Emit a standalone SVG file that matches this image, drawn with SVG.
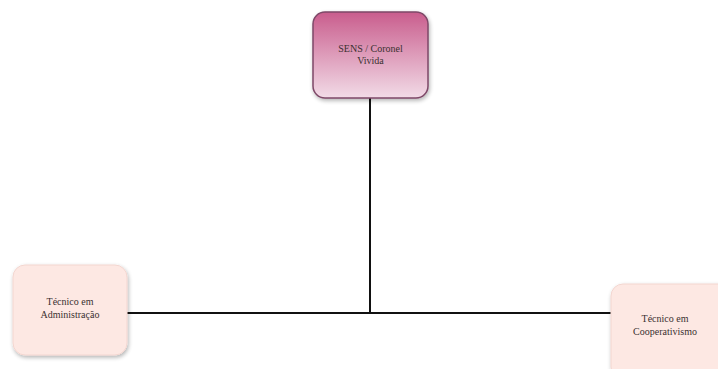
<svg xmlns="http://www.w3.org/2000/svg" width="718" height="369" viewBox="0 0 718 369">
<defs>
<linearGradient id="gTop" x1="0" y1="0" x2="0" y2="1">
<stop offset="0" stop-color="#c95d8d"/>
<stop offset="1" stop-color="#f2dbe7"/>
</linearGradient>
<filter id="sh" x="-20%" y="-20%" width="140%" height="140%">
<feGaussianBlur in="SourceAlpha" stdDeviation="2"/>
<feOffset dx="1" dy="2"/>
<feComponentTransfer><feFuncA type="linear" slope="0.3"/></feComponentTransfer>
<feMerge><feMergeNode/><feMergeNode in="SourceGraphic"/></feMerge>
</filter>
</defs>
<style>
.t{font-family:"Liberation Serif","Times New Roman",serif;font-size:10px;fill:#3a3030;text-anchor:middle}
.light{fill:#fde8e3;stroke:#f3d6d0;stroke-width:1}
.c{stroke:#111;stroke-width:2;fill:none}
</style>
<rect width="718" height="369" fill="#ffffff"/>
<g id="connectors">
<line class="c" x1="370" y1="97" x2="370" y2="313"/>
<line class="c" x1="127" y1="313" x2="612" y2="313"/>
</g>
<g id="node-sens">
<rect x="313" y="12" width="115" height="86" rx="12" fill="url(#gTop)" stroke="#7e4868" stroke-width="1.5" filter="url(#sh)"/>
<text class="t" x="370.5" y="52">SENS / Coronel</text>
<text class="t" x="370.5" y="64">Vivida</text>
</g>
<g id="node-adm">
<rect class="light" x="13" y="265" width="114" height="90" rx="12" filter="url(#sh)"/>
<text class="t" x="70" y="305">Técnico em</text>
<text class="t" x="70" y="318">Administração</text>
</g>
<g id="node-coop">
<rect class="light" x="611" y="284" width="120" height="95" rx="12" filter="url(#sh)"/>
<text class="t" x="665" y="322">Técnico em</text>
<text class="t" x="665" y="335">Cooperativismo</text>
</g>
</svg>
